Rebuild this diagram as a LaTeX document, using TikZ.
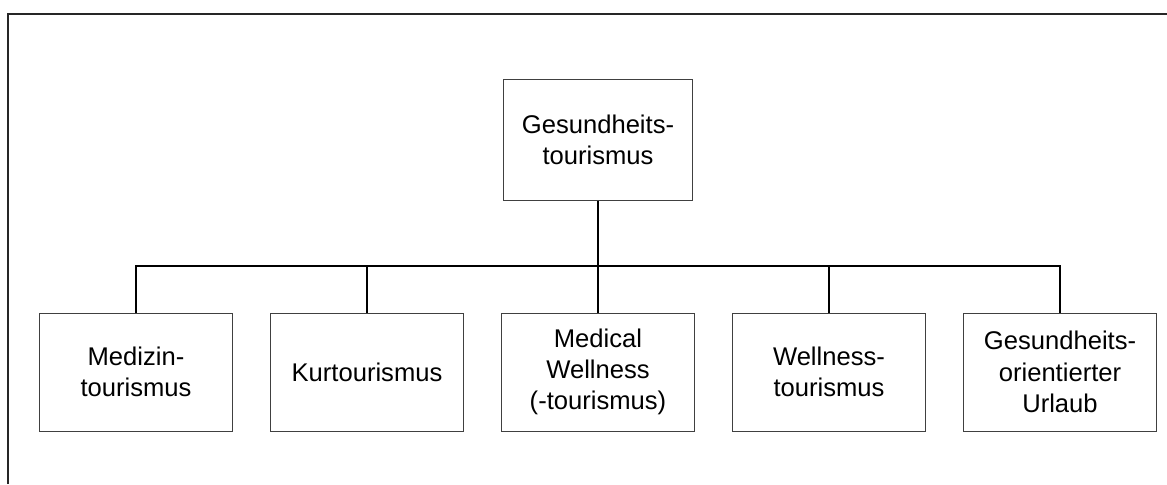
\documentclass[tikz,border=0pt]{standalone}
\usepackage{fontspec}
\setmainfont{Liberation Sans}
\usetikzlibrary{positioning}
\tikzstyle{box} = [rectangle, minimum width = 96.5pt, minimum height = 59pt, text centered, align = center, draw = black!75, line width = 0.5pt, font = \fontsize{12.8}{15.6}\selectfont]
\tikzstyle{line} = [line width = 0.9pt, black]
\tikzstyle{frame} = [line width = 1pt, black!85]

\begin{document}
\begin{tikzpicture}[x = 0.5pt, y = -0.5pt, node distance = 18.5pt]
    \useasboundingbox (0,0) rectangle (1167,484);
    \draw[frame](8,484)--(8,14)--(1167,14);

    \node(top)[box, minimum width = 94.5pt, minimum height = 60.5pt] at (598,139.5){Gesundheits-\\tourismus};
    \node(medical)[box] at (598,372){Medical\\Wellness\\(-tourismus)};
    \node(kur)[box, left = of medical]{Kurtourismus};
    \node(medizin)[box, left = of kur]{Medizin-\\tourismus};
    \node(wellness)[box, right = of medical]{Wellness-\\tourismus};
    \node(urlaub)[box, right = of wellness]{Gesundheits-\\orientierter\\Urlaub};
    \coordinate(bus) at (598,266);

    \draw[line](top)--(medical);
    \draw[line](medizin.north)--(medizin.north |- bus)--(urlaub.north |- bus)--(urlaub.north);
    \draw[line](kur)--(kur.north |- bus);
    \draw[line](wellness)--(wellness.north |- bus);
\end{tikzpicture}
\end{document}
